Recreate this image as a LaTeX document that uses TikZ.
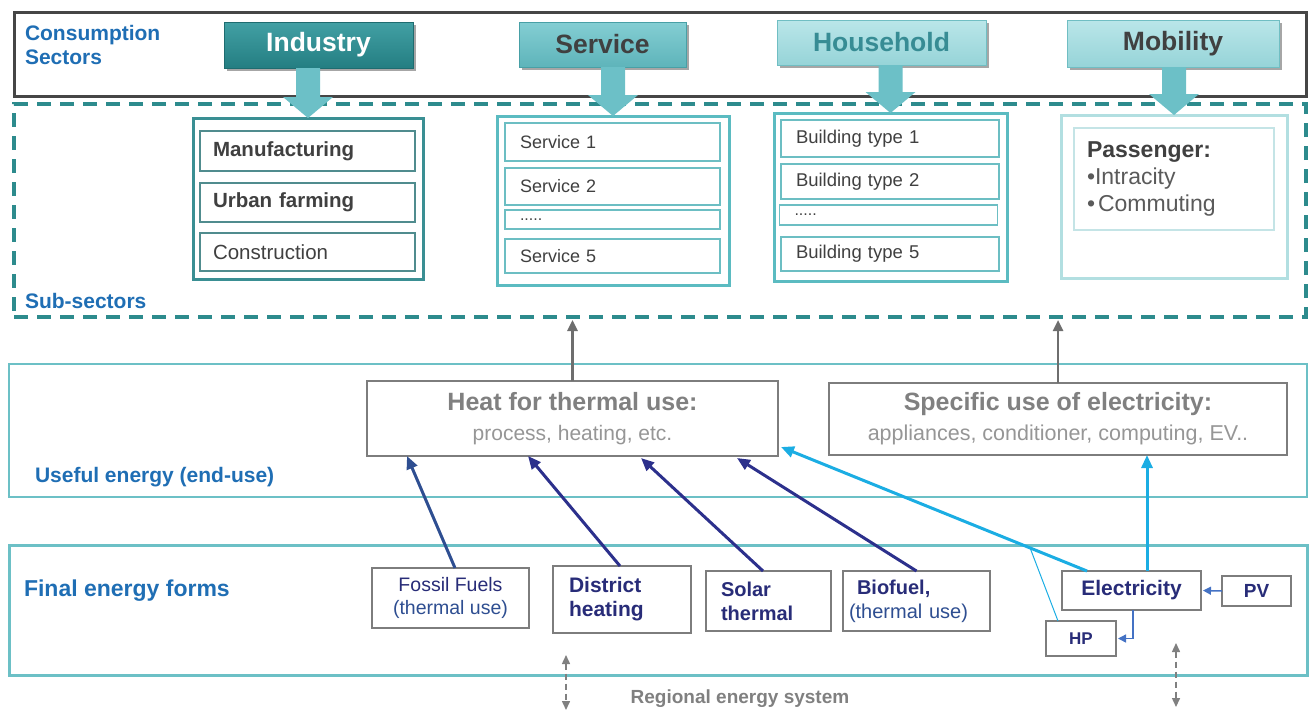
\documentclass[tikz,border=0pt]{standalone}
\usepackage{fontspec}
\setmainfont{Liberation Sans}
\usetikzlibrary{arrows.meta,calc,shadows}
\newcommand\myfs[2]{\fontsize{#1}{#2}\selectfont}
\definecolor{lblue}{RGB}{31,110,180}
\definecolor{topgray}{RGB}{70,70,70}
\definecolor{dteal}{RGB}{45,139,141}
\definecolor{indT}{RGB}{66,160,164}
\definecolor{indB}{RGB}{36,126,130}
\definecolor{indD}{RGB}{30,108,112}
\definecolor{servT}{RGB}{132,206,211}
\definecolor{servB}{RGB}{94,180,186}
\definecolor{servD}{RGB}{72,160,166}
\definecolor{houT}{RGB}{186,230,233}
\definecolor{houB}{RGB}{150,212,216}
\definecolor{houD}{RGB}{112,190,195}
\definecolor{houtxt}{RGB}{55,140,148}
\definecolor{dgray}{RGB}{64,64,64}
\definecolor{mgray}{RGB}{90,90,90}
\definecolor{barc}{RGB}{108,192,199}
\definecolor{indsubc}{RGB}{58,143,147}
\definecolor{servsubc}{RGB}{91,187,193}
\definecolor{mobsubc}{RGB}{178,223,225}
\definecolor{indin}{RGB}{80,140,142}
\definecolor{servin}{RGB}{108,190,195}
\definecolor{mobin}{RGB}{196,228,230}
\definecolor{lteal}{RGB}{108,192,198}
\definecolor{boxgray}{RGB}{125,125,125}
\definecolor{htxt}{RGB}{128,128,128}
\definecolor{hsub}{RGB}{150,150,150}
\definecolor{navy}{RGB}{44,48,140}
\definecolor{navyb}{RGB}{46,78,145}
\definecolor{navytxt}{RGB}{40,44,120}
\definecolor{cyanc}{RGB}{27,173,227}
\definecolor{bluec}{RGB}{68,114,196}
\definecolor{arrgray}{RGB}{110,110,110}
\definecolor{reggray}{RGB}{128,128,128}
\newcommand\blockarrow[2]{%
  \fill[barc] let \p1=(#2.north |- #1.south), \p2=(#2.north) in
   (\x1-12pt,\y1) -- (\x1+12pt,\y1) -- (\x1+12pt,\y2+21pt) -- (\x1+25pt,\y2+21pt)
   -- (\x1,\y2) -- (\x1-25pt,\y2+21pt) -- (\x1-12pt,\y2+21pt) -- cycle;}
\begin{document}
\begin{tikzpicture}[x=1pt,y=-1pt,
  every node/.style={inner sep=0pt, outer sep=0pt},
  secbox/.style={rectangle, line width=1pt, font=\myfs{26.5}{30}\bfseries,
     drop shadow={shadow xshift=2.5pt, shadow yshift=-2.5pt, opacity=0.35, fill=black}},
  subbox/.style={draw=#1, line width=3pt, fill=white},
  inbox/.style={draw=#1, line width=1.2pt, fill=white, align=left},
  lbl/.style={text=lblue, font=\myfs{21}{24}\bfseries, anchor=west, align=left},
  bigbox/.style={draw=lteal, line width=2.6pt},
  usebox/.style={draw=boxgray, line width=1.5pt, fill=white, align=center, font=\myfs{25}{30}},
  fbox/.style={draw=boxgray, line width=1.3pt, fill=white, text=navytxt},
  navyarrow/.style={draw=#1, line width=3pt, -{Triangle[length=13pt,width=11pt]}},
  cyanarrow/.style={draw=cyanc, line width=3pt, -{Triangle[length=13pt,width=11pt]}},
  bluearrow/.style={draw=bluec, line width=1.5pt, -{Triangle[length=8pt,width=8pt]}, shorten >=2pt},
  grayup/.style={draw=arrgray, line width=2.5pt, -{Triangle[length=11pt,width=10pt]}},
  regarrow/.style={draw=reggray, line width=1.5pt, dash pattern=on 6pt off 4pt,
     {Triangle[length=9pt,width=8pt]}-{Triangle[length=9pt,width=8pt]}}
]
\useasboundingbox (0,0) rectangle (1309,713);

% ---------- consumption sectors ----------
\node[draw=topgray, line width=3pt, minimum width=1292pt, minimum height=84pt] (top) at (660,54) {};
\node[draw=dteal, line width=3.5pt, dash pattern=on 14pt off 9pt, minimum width=1292pt, minimum height=213pt] (dash) at (660,210.5) {};
\node[lbl] (cons) at (25,45) {Consumption\\Sectors};
\node[lbl] (subs) at (25,301) {Sub-sectors};

\node[secbox, top color=indT, bottom color=indB, draw=indD, text=white, minimum width=189pt, minimum height=46pt] (ind) at (318.5,45) {Industry};
\node[secbox, top color=servT, bottom color=servB, draw=servD, text=dgray, minimum width=167pt, minimum height=45pt] (serv) at (602.5,44.5) {Service};
\node[secbox, top color=houT, bottom color=houB, draw=houD, text=houtxt, minimum width=209pt, minimum height=45pt] (hou) at (881.5,42.5) {Household};
\node[secbox, top color=houT, bottom color=houB, draw=houD, text=dgray, minimum width=212pt, minimum height=47pt] (mob) at (1173,43.5) {Mobility};

% ---------- sub-sectors ----------
\node[subbox=indsubc, minimum width=230pt, minimum height=161pt] (indsub) at (308,198.5) {};
\node[subbox=servsubc, minimum width=232pt, minimum height=169pt] (servsub) at (613,200.5) {};
\node[subbox=servsubc, minimum width=233pt, minimum height=168pt] (housub) at (890.5,197) {};
\node[subbox=mobsubc, minimum width=226pt, minimum height=163pt] (mobsub) at (1174,196.5) {};

\blockarrow{ind}{indsub}
\blockarrow{serv}{servsub}
\blockarrow{hou}{housub}
\blockarrow{mob}{mobsub}

\begin{scope}[every node/.append style={inbox=indin, inner xsep=13pt, text width=189pt, text=dgray, font=\myfs{20.5}{24}\bfseries}]
\node[minimum height=40pt] (man) at (307.5,151) {Manufacturing};
\node[minimum height=39pt] (urb) at (307.5,202.5) {Urban farming};
\node[minimum height=38pt, font=\myfs{20.5}{24}\mdseries] (con) at (307.5,252) {Construction};
\end{scope}

\begin{scope}[every node/.append style={inbox=servin, inner xsep=15pt, text width=185pt, text=dgray, font=\myfs{18}{22}}]
\node[minimum height=38pt] (s1) at (612.5,142) {Service 1};
\node[minimum height=37pt] (s2) at (612.5,186.5) {Service 2};
\node[minimum height=19pt, font=\myfs{16}{16}] (sd) at (612.5,219.5) {.....};
\node[minimum height=34pt] (s5) at (612.5,256) {Service 5};
\end{scope}

\begin{scope}[every node/.append style={inbox=servin, inner xsep=15pt, text width=188pt, text=dgray, font=\myfs{18.5}{22}}]
\node[minimum height=37pt] (b1) at (890,138.5) {Building type 1};
\node[minimum height=35pt] (b2) at (890,181.5) {Building type 2};
\node[minimum height=20pt, font=\myfs{16}{16}] (bd) at (888.5,215) {.....};
\node[minimum height=34pt] (b5) at (890,254) {Building type 5};
\end{scope}

\node[inbox=mobin, inner xsep=13pt, text width=174pt, minimum height=102pt, text=mgray, font=\myfs{23}{27}] (pass) at (1174,179)
  {{\bfseries\color{dgray}Passenger:}\\•Intracity\\•\hspace{3pt}Commuting};

% ---------- useful energy ----------
\node[bigbox, minimum width=1298pt, minimum height=133pt] (useful) at (658,430.5) {};
\node[lbl] (usel) at (35,477) {Useful energy (end-use)};

\node[usebox, minimum width=411pt, minimum height=75pt] (heat) at (572.5,418.5)
  {{\color{htxt}\bfseries Heat for thermal use:}\\{\color{hsub}\myfs{21}{30}process, heating, etc.}};
\node[usebox, minimum width=458pt, minimum height=72pt] (spec) at (1058,419)
  {{\color{htxt}\bfseries Specific use of electricity:}\\{\color{hsub}\myfs{21.5}{30}appliances, conditioner, computing, EV..}};

\draw[grayup, shorten >=3pt] (heat.north) -- (heat.north |- dash.south);
\draw[grayup, shorten >=3pt] (spec.north) -- (spec.north |- dash.south);

% ---------- final energy forms ----------
\node[bigbox, line width=3pt, minimum width=1298pt, minimum height=130pt] (final) at (658,610) {};
\node[lbl, font=\myfs{23}{26}\bfseries] (finl) at (24,591) {Final energy forms};

\node[fbox, minimum width=157pt, minimum height=60pt, align=center, font=\myfs{19.5}{23}] (fossil) at (450.5,598)
  {Fossil Fuels\\{\color{navyb}(thermal use)}};
\node[fbox, line width=2pt, minimum width=138pt, minimum height=67pt, inner xsep=16pt, text width=106pt, align=left, font=\myfs{21}{24}\bfseries] (district) at (622,599.5)
  {District\\heating};
\node[fbox, minimum width=125pt, minimum height=60pt, inner xsep=15pt, text width=95pt, align=left, font=\myfs{20}{24}\bfseries] (solar) at (768.5,601)
  {Solar\\thermal};
\node[fbox, minimum width=147pt, minimum height=60pt, inner xsep=6pt, text width=135pt, align=left, font=\myfs{20}{24}] (bio) at (916.5,601)
  {\hspace*{8pt}{\bfseries Biofuel,}\\{\color{navyb}(thermal use)}};
\node[fbox, line width=2pt, minimum width=139pt, minimum height=39pt, font=\myfs{21}{24}\bfseries] (elec) at (1131.5,590.5) {Electricity};
\node[fbox, minimum width=69pt, minimum height=30pt, font=\myfs{19}{22}\bfseries] (pv) at (1256.5,591) {PV};
\node[fbox, minimum width=70pt, minimum height=35pt, font=\myfs{17}{20}\bfseries] (hp) at (1081,638.5) {HP};

% ---------- connectors ----------
\draw[navyarrow=navyb] ($(fossil.north)+(4.5,0)$) -- ($(heat.south west)+(40,0)$);
\draw[navyarrow=navy] ($(district.north)+(-2,0)$) -- ($(heat.south west)+(161,0)$);
\draw[navyarrow=navy] ($(solar.north)+(-5.5,0)$) -- ($(heat.south west)+(274,2)$);
\draw[navyarrow=navy] (bio.north) -- ($(heat.south west)+(370,2)$);

\coordinate (eh1) at ($(elec.north west)+(25,0)$);
\coordinate (eh2) at ($(heat.south east)+(3,-9)$);
\coordinate (ehm) at ($(eh1)!0.186!(eh2)$);
\draw[cyanc, line width=1pt] ($(hp.north west)+(12,0)$) -- (ehm);
\draw[cyanarrow] (eh1) -- (eh2);
\coordinate (es) at ($(elec.north)+(15.5,0)$);
\draw[cyanarrow] (es) -- (es |- spec.south);

\coordinate (eb) at ($(elec.south)+(1.5,0)$);
\draw[bluearrow] (eb) |- (hp.east);
\draw[bluearrow] (pv.west) -- (elec.east);

% ---------- regional energy system ----------
\coordinate (ra1) at (566,655);
\coordinate (ra2) at (566,710);
\coordinate (rb1) at (1176,643);
\coordinate (rb2) at (1176,707);
\draw[regarrow] (ra1) -- (ra2);
\draw[regarrow] (rb1) -- (rb2);
\node[text=reggray, font=\myfs{19}{22}\bfseries] (reg) at (740,699) {Regional energy system};
\end{tikzpicture}
\end{document}
